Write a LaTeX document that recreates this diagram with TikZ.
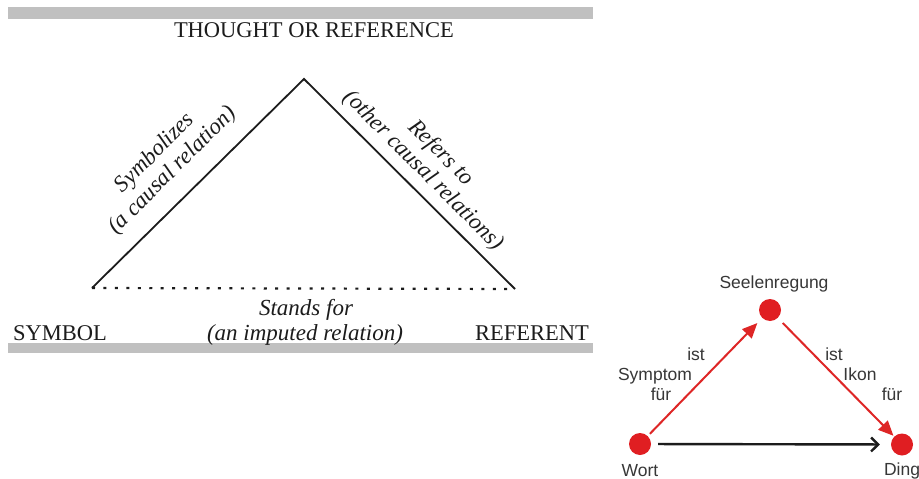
\documentclass[tikz,border=0pt]{standalone}
\usepackage{fontspec}
\setmainfont{Liberation Serif}
\newfontfamily\labelsans{Liberation Sans}
\usetikzlibrary{arrows.meta}
\definecolor{bargray}{RGB}{192,192,192}
\definecolor{ink}{RGB}{28,28,28}
\definecolor{dotred}{RGB}{224,30,34}
\definecolor{arrowred}{RGB}{222,38,38}
\definecolor{labelgray}{RGB}{55,55,55}
\begin{document}
\begin{tikzpicture}[x=1pt,y=-1pt,
  capslabel/.style={font=\fontsize{22.5}{26}\selectfont, text=ink, inner sep=0pt},
  slantlabel/.style={font=\fontsize{23}{25}\selectfont\itshape, text=ink, inner sep=0pt, align=center},
  triedge/.style={draw=ink, line width=1.8pt, line join=miter},
  imputed/.style={draw=ink, line width=2.2pt, dash pattern=on 3pt off 8.45pt},
  vertex/.style={circle, fill=dotred, minimum size=22pt, inner sep=0pt},
  sanslabel/.style={font=\labelsans\fontsize{17.5}{20}\selectfont, text=labelgray, inner sep=0pt, anchor=base},
  redarrow/.style={draw=arrowred, line width=2pt, -{Triangle[length=15pt,width=13pt]}},
  blackarrow/.style={draw=ink, line width=2.4pt, -{Straight Barb[length=7pt,width=14pt]}}
]
\useasboundingbox (0,0) rectangle (919,479);
\fill[white] (0,0) rectangle (919,479);

% grey rules framing the triangle of meaning
\fill[bargray] (8,7) rectangle (593,19);
\fill[bargray] (8,343) rectangle (593,353);

% corners of the semiotic triangle
\coordinate (apex) at (304,79);
\coordinate (symb) at (92,288);
\coordinate (refr) at (515,289);

\draw[triedge] (symb) -- (apex) -- (refr);
\draw[imputed] (symb) -- (refr);

\node[capslabel, anchor=base] (thought) at (314,37) {THOUGHT OR REFERENCE};
\node[capslabel, anchor=base west] (symbol) at (13,340) {SYMBOL};
\node[capslabel, anchor=base east] (referent) at (589,340) {REFERENT};

\node[slantlabel, rotate=45] (symbolizes) at (164,162) {Symbolizes\\(a causal relation)};
\node[slantlabel, rotate=-45] (refersto) at (432,162) {Refers to\\(other causal relations)};
\node[slantlabel, anchor=base] (standsA) at (306,315) {Stands for};
\node[slantlabel, anchor=base] (standsB) at (305,340) {(an imputed relation)};

% the Aristotelian triangle
\node[vertex] (seele) at (770,310) {};
\node[vertex] (wort) at (640,444) {};
\node[vertex] (ding) at (902,444.5) {};

\node[sanslabel] (seeletext) at (774,288) {Seelenregung};
\node[sanslabel] (worttext) at (640,476) {Wort};
\node[sanslabel] (dingtext) at (902,475) {Ding};

\draw[redarrow, shorten <=3pt, shorten >=7pt] (wort) -- (seele);
\draw[redarrow, shorten <=7pt, shorten >=1pt] (seele) -- (ding);
\draw[blackarrow, shorten <=7pt, shorten >=11pt] (wort) -- (ding);

\node[sanslabel] (istL) at (696,360) {ist};
\node[sanslabel] (symptom) at (655,380) {Symptom};
\node[sanslabel] (fuerL) at (661,400) {für};
\node[sanslabel] (istR) at (834,360) {ist};
\node[sanslabel] (ikon) at (860,380) {Ikon};
\node[sanslabel] (fuerR) at (892,400) {für};
\end{tikzpicture}
\end{document}
